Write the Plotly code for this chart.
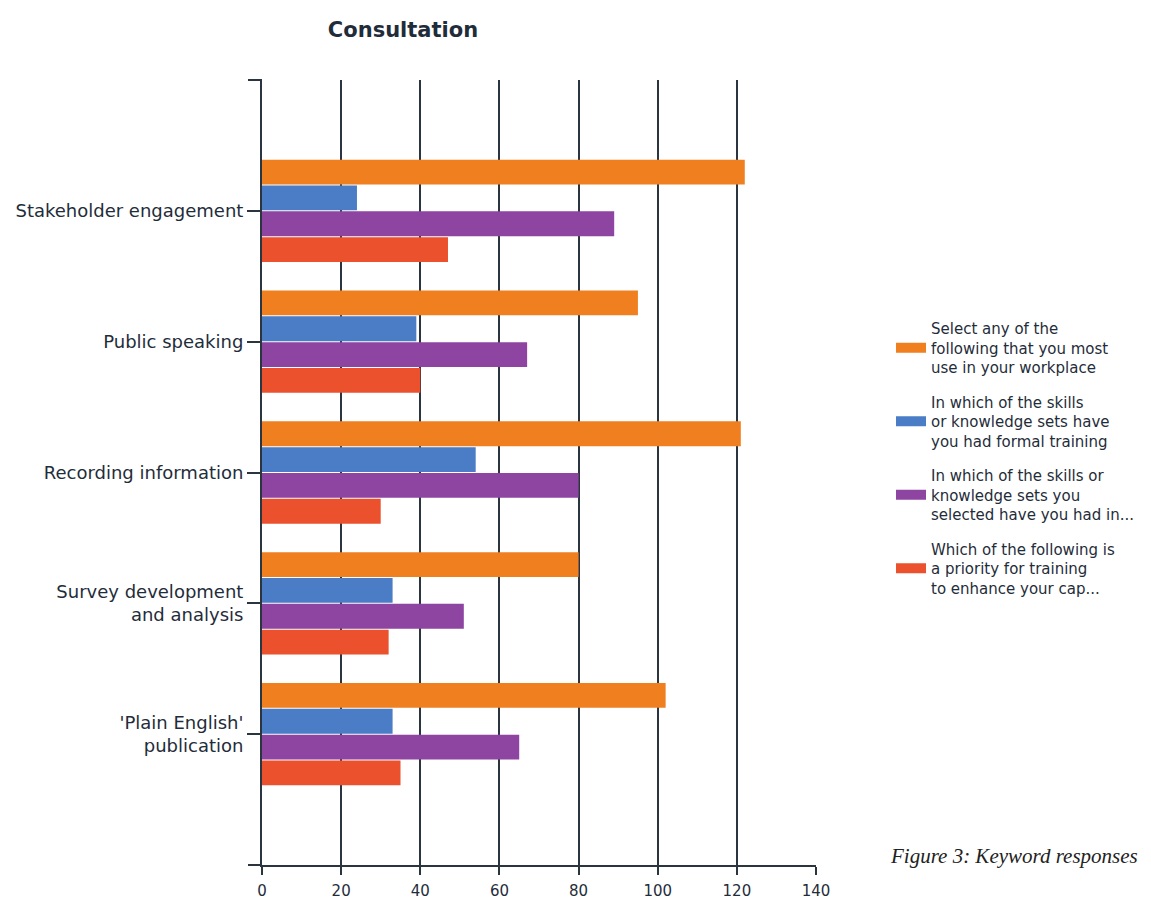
import plotly.graph_objects as go

# ---- data ----
categories = [
    "Stakeholder engagement",
    "Public speaking",
    "Recording information",
    "Survey development<br>and analysis",
    "'Plain English'<br>publication",
]
series_names = [
    "Select any of the<br>following that you most<br>use in your workplace",
    "In which of the skills<br>or knowledge sets have<br>you had formal training",
    "In which of the skills or<br>knowledge sets you<br>selected have you had in...",
    "Which of the following is<br>a priority for training<br>to enhance your cap...",
]
use_in_workplace = [122, 95, 121, 80, 102]
formal_training = [24, 39, 54, 33, 33]
training_in_selected = [89, 67, 80, 51, 65]
priority_for_training = [47, 40, 30, 32, 35]
x_ticks = [0, 20, 40, 60, 80, 100, 120, 140]

series_values = [use_in_workplace, formal_training, training_in_selected, priority_for_training]
colors = ["#F07F1F", "#4A7DC6", "#8E45A2", "#EB512C"]

DARK = "#2A3540"
TEXT = "#1F2D3A"
FONT = "DejaVu Sans"

W, H = 1151, 901
L, R, T, B = 262, 816, 80, 865

fig = go.Figure()
for i, (name, vals, col) in enumerate(zip(series_names, series_values, colors)):
    fig.add_trace(go.Bar(
        y=categories, x=vals, orientation="h", name=name,
        marker=dict(color=col, line=dict(width=0)),
        showlegend=False, legendgroup=f"g{i}",
    ))
for i, (name, col) in enumerate(zip(series_names, colors)):
    fig.add_trace(go.Scatter(
        x=[None], y=[None], mode="lines", name=name,
        line=dict(color=col, width=10),
        legendgroup=f"g{i}", showlegend=True,
    ))

pw = R - L
ph = B - T
fig.update_layout(
    width=W, height=H,
    margin=dict(l=L, r=W - R, t=T, b=H - B, pad=0, autoexpand=False),
    paper_bgcolor="white", plot_bgcolor="white",
    font=dict(family=FONT, color=TEXT, size=14),
    barmode="group", bargap=0.21, bargroupgap=0.04,
    title=dict(text="<b>Consultation</b>", x=403 / W, xanchor="center",
               xref="container", y=1 - 30 / H, yanchor="middle", yref="container",
               font=dict(family=FONT, size=21, color=TEXT)),
    legend=dict(
        x=891 / W, xref="container", xanchor="left",
        y=1 - 312 / H, yref="container", yanchor="top",
        traceorder="grouped", tracegroupgap=12,
        font=dict(family=FONT, size=15, color=TEXT),
        bgcolor="rgba(0,0,0,0)", itemwidth=30,
    ),
    xaxis=dict(
        range=[0, 140], tickmode="array", tickvals=x_ticks,
        ticks="outside", ticklen=8, tickwidth=2, tickcolor=DARK,
        showgrid=True, gridcolor=DARK, gridwidth=2,
        showline=True, linecolor=DARK, linewidth=2, zeroline=False,
        ticklabelstandoff=3, automargin=False,
        tickfont=dict(family=FONT, size=15, color=TEXT),
    ),
    yaxis=dict(
        type="category", range=[5, -1],
        ticks="outside", ticklen=13, tickwidth=2, tickcolor=DARK,
        showgrid=False, showline=True, linecolor=DARK, linewidth=2,
        zeroline=False, automargin=False,
        tickfont=dict(family=FONT, size=18, color=TEXT),
    ),
    shapes=[
        dict(type="line", xref="paper", yref="paper", x0=-14 / pw, x1=0, y0=1, y1=1,
             line=dict(color=DARK, width=2)),
        dict(type="line", xref="paper", yref="paper", x0=-14 / pw, x1=0, y0=0, y1=0,
             line=dict(color=DARK, width=2)),
    ],
    annotations=[
        dict(text="<i>Figure 3: Keyword responses</i>", xref="paper", yref="paper",
             x=(888 - L) / pw, y=(B - 856) / ph, xanchor="left", yanchor="middle",
             showarrow=False, font=dict(family="Liberation Serif", size=21, color="#222222")),
    ],
)

fig.write_html("out.html")
